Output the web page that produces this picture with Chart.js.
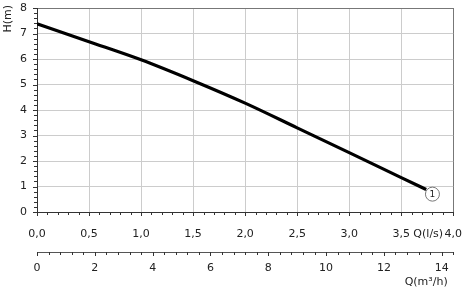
<!doctype html>
<html>
<head>
<meta charset="utf-8">
<script src="https://cdn.jsdelivr.net/npm/chart.js"></script>
<style>
html, body { margin: 0; padding: 0; background: #fff; }
#wrap { width: 462px; height: 288px; }
</style>
</head>
<body>
<div id="wrap"><canvas id="pumpChart" width="462" height="288"></canvas></div>
<script>
// pump curve, Q in l/s, H in m
var flowLs = [0.0, 0.5, 1.0, 1.5, 2.0, 2.5, 3.0, 3.5, 3.74];
var headM  = [7.38, 6.68, 5.97, 5.15, 4.27, 3.3, 2.33, 1.35, 0.88];

// curve number marker
var markerLabel = '1';
var markerQ = 3.80;
var markerH = 0.70;

var yTicks = [0, 1, 2, 3, 4, 5, 6, 7, 8];
var qLsTicks = [0, 0.5, 1, 1.5, 2, 2.5, 3, 3.5, 4];
var qM3hTicks = [0, 2, 4, 6, 8, 10, 12, 14];

var font = "'DejaVu Sans', sans-serif";
var textColor = '#222';

var curvePoints = flowLs.map(function (q, i) { return { x: q, y: headM[i] }; });

function extras(chart) {
	var ctx = chart.ctx;
	var x = chart.scales.x, y = chart.scales.y, x2 = chart.scales.x2;
	ctx.save();
	ctx.strokeStyle = '#333';
	ctx.lineWidth = 1;
	ctx.beginPath();
	// Q(l/s) axis, every 0.1
	for (var i = 0; i <= 40; i++) {
		var px = Math.round(x.getPixelForValue(i / 10)) + 0.5;
		ctx.moveTo(px, x.top);
		ctx.lineTo(px, x.top + (i % 5 === 0 ? 4 : 3));
	}
	// H axis, every 0.2
	for (var j = 0; j <= 40; j++) {
		var py = Math.round(y.getPixelForValue(j / 5)) + 0.5;
		ctx.moveTo(y.right, py);
		ctx.lineTo(y.right - (j % 5 === 0 ? 4 : 3), py);
	}
	// Q(m3/h) axis, every 0.4
	for (var k = 0; k <= 36; k++) {
		var p2 = Math.round(x2.getPixelForValue(k * 0.4)) + 0.5;
		ctx.moveTo(p2, x2.top);
		ctx.lineTo(p2, x2.top + (k % 5 === 0 ? 4 : 3));
	}
	ctx.stroke();

	ctx.fillStyle = textColor;
	ctx.font = '11px ' + font;
	ctx.textBaseline = 'middle';
	// axis names
	ctx.textAlign = 'center';
	ctx.fillText('Q(l/s)', (x.getPixelForValue(3.5) + x.getPixelForValue(4)) / 2 + 1, x.top + 22);
	ctx.textAlign = 'right';
	ctx.fillText('Q(m³/h)', x2.getPixelForValue(14) + 6, x2.top + 30);
	ctx.save();
	ctx.translate(8, 5);
	ctx.rotate(-Math.PI / 2);
	ctx.textAlign = 'right';
	ctx.fillText('H(m)', 0, 0);
	ctx.restore();

	// marker number
	var mx = x.getPixelForValue(markerQ), my = y.getPixelForValue(markerH);
	ctx.textAlign = 'center';
	ctx.font = '9px ' + font;
	ctx.fillText(markerLabel, mx, my + 0.5);
	ctx.restore();
}

new Chart(document.getElementById('pumpChart'), {
	type: 'scatter',
	data: {
		datasets: [
			{
				data: curvePoints,
				showLine: true,
				borderColor: '#000',
				borderWidth: 3.2,
				pointRadius: 0,
				cubicInterpolationMode: 'monotone',
				xAxisID: 'x',
				yAxisID: 'y'
			},
			{
				data: [{ x: markerQ, y: markerH }],
				pointRadius: 7,
				pointBackgroundColor: '#fff',
				pointBorderColor: '#777',
				pointBorderWidth: 1,
				xAxisID: 'x',
				yAxisID: 'y'
			}
		]
	},
	options: {
		responsive: false,
		animation: false,
		events: [],
		layout: { padding: { top: 5, right: 8, left: 0, bottom: 0 } },
		plugins: { legend: { display: false }, tooltip: { enabled: false } },
		scales: {
			x: {
				type: 'linear',
				position: 'bottom',
				min: 0,
				max: 4,
				afterBuildTicks: function (s) { s.ticks = qLsTicks.map(function (v) { return { value: v }; }); },
				afterFit: function (s) { s.height = 40; },
				ticks: {
					padding: 0,
					color: textColor,
					font: { family: font, size: 11 },
					maxRotation: 0,
					autoSkip: false,
					callback: function (v) { return v.toFixed(1).replace('.', ','); }
				},
				grid: {
					drawTicks: true,
					tickLength: 16,
					tickColor: 'rgba(0,0,0,0)',
					color: function (c) { return c.tick && c.tick.value === 4 ? '#777' : '#ccc'; }
				},
				border: { color: '#333', width: 1 }
			},
			x2: {
				type: 'linear',
				position: 'bottom',
				min: 0,
				max: 14.4,
				afterBuildTicks: function (s) { s.ticks = qM3hTicks.map(function (v) { return { value: v }; }); },
				afterFit: function (s) { s.height = 36; },
				ticks: {
					padding: 0,
					color: textColor,
					font: { family: font, size: 11 },
					maxRotation: 0,
					autoSkip: false
				},
				grid: { display: false, drawTicks: true, tickLength: 10, tickColor: 'rgba(0,0,0,0)' },
				border: { color: '#555', width: 1 }
			},
			y: {
				type: 'linear',
				min: 0,
				max: 8,
				afterBuildTicks: function (s) { s.ticks = yTicks.map(function (v) { return { value: v }; }); },
				afterFit: function (s) { s.width = 37; },
				ticks: {
					padding: 0,
					color: textColor,
					font: { family: font, size: 11 }
				},
				grid: {
					drawTicks: true,
					tickLength: 10,
					tickColor: 'rgba(0,0,0,0)',
					color: function (c) { return c.tick && c.tick.value === 8 ? '#777' : '#ccc'; }
				},
				border: { color: '#333', width: 1 }
			}
		}
	},
	plugins: [{ id: 'extras', afterDraw: extras }]
});
</script>
</body>
</html>
